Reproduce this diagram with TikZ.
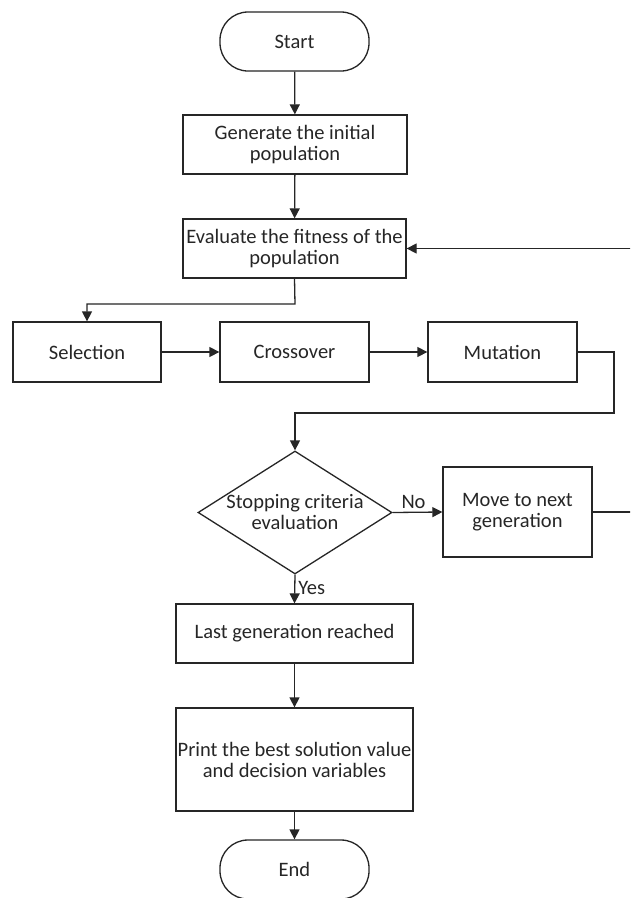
\documentclass[tikz,border=0pt]{standalone}
\usepackage{fontspec}
\setmainfont{Carlito}
\usetikzlibrary{arrows.meta,shapes.geometric}
\definecolor{ink}{gray}{0.15}
\begin{document}
\begin{tikzpicture}[x=1pt,y=-1pt,
  font=\fontsize{20.5}{21}\selectfont,
  flow/.style={draw=ink, line width=1.3pt, inner sep=0pt, align=center, text=ink},
  procbox/.style={flow, rectangle},
  terminal/.style={flow, rectangle, rounded corners=28pt},
  decision/.style={flow, diamond},
  label/.style={inner sep=0pt, text=ink, align=center},
  link/.style={draw=ink, line width=1.3pt, -{Triangle[length=10pt,width=10pt]}},
  wire/.style={draw=ink, line width=1.3pt}]
\clip (0,0) rectangle (630,898);
\fill[white] (0,0) rectangle (630,898);

% main column
\node[terminal, minimum width=149pt, minimum height=59pt] (start) at (294.5,41.5) {Start};
\node[procbox, minimum width=224pt, minimum height=59pt] (gen) at (295,144.5) {Generate the initial\\population};
\node[procbox, minimum width=223pt, minimum height=59pt] (eval) at (294.5,248.5) {Evaluate the fitness of the\\population};

% genetic operators
\node[procbox, minimum width=148pt, minimum height=60pt] (sel) at (87,352) {Selection};
\node[procbox, minimum width=149pt, minimum height=60pt] (cross) at (294.5,352) {Crossover};
\node[procbox, minimum width=149pt, minimum height=60pt] (mut) at (502.5,352) {Mutation};

% decision and loop
\node[decision, minimum width=194pt, minimum height=123pt] (dia) at (295,512.5) {};
\node[label] (diatext) at (dia.center) {Stopping criteria\\evaluation};
\node[procbox, minimum width=149pt, minimum height=90pt] (move) at (517.5,512) {Move to next\\generation};

% termination
\node[procbox, minimum width=237pt, minimum height=59pt] (last) at (294.5,633.5) {Last generation reached};
\node[procbox, minimum width=237pt, minimum height=103pt] (print) at (294.5,759.5) {Print the best solution value\\and decision variables};
\node[terminal, minimum width=149pt, minimum height=59pt] (end) at (294.5,869.5) {End};

% helper points for routed connectors
\coordinate (e1) at (295,304);
\coordinate (e2) at (87,304);
\coordinate (m1) at (614,352);
\coordinate (m2) at (614,413);
\coordinate (m3) at (295,413);
\coordinate (r1) at (645,512);
\coordinate (r2) at (645,248.5);

% connectors
\draw[link] (start) -- (gen);
\draw[link] (gen) -- (eval);
\draw[link] (eval.south) -- (e1) -- (e2) -- (sel.north);
\draw[link] (sel) -- (cross);
\draw[link] (cross) -- (mut);
\draw[link] (mut.east) -- (m1) -- (m2) -- (m3) -- (dia.north);
\draw[link] (dia.east) -- node[label, above=3pt, pos=0.42] (nolab) {No} (move.west);
\draw[link] (dia.south) -- node[label, right=3pt, pos=0.45] (yeslab) {Yes} (last.north);
\draw[link] (move.east) -- (r1) -- (r2) -- (eval.east);
\draw[link] (last) -- (print);
\draw[link] (print) -- (end);
\end{tikzpicture}
\end{document}
